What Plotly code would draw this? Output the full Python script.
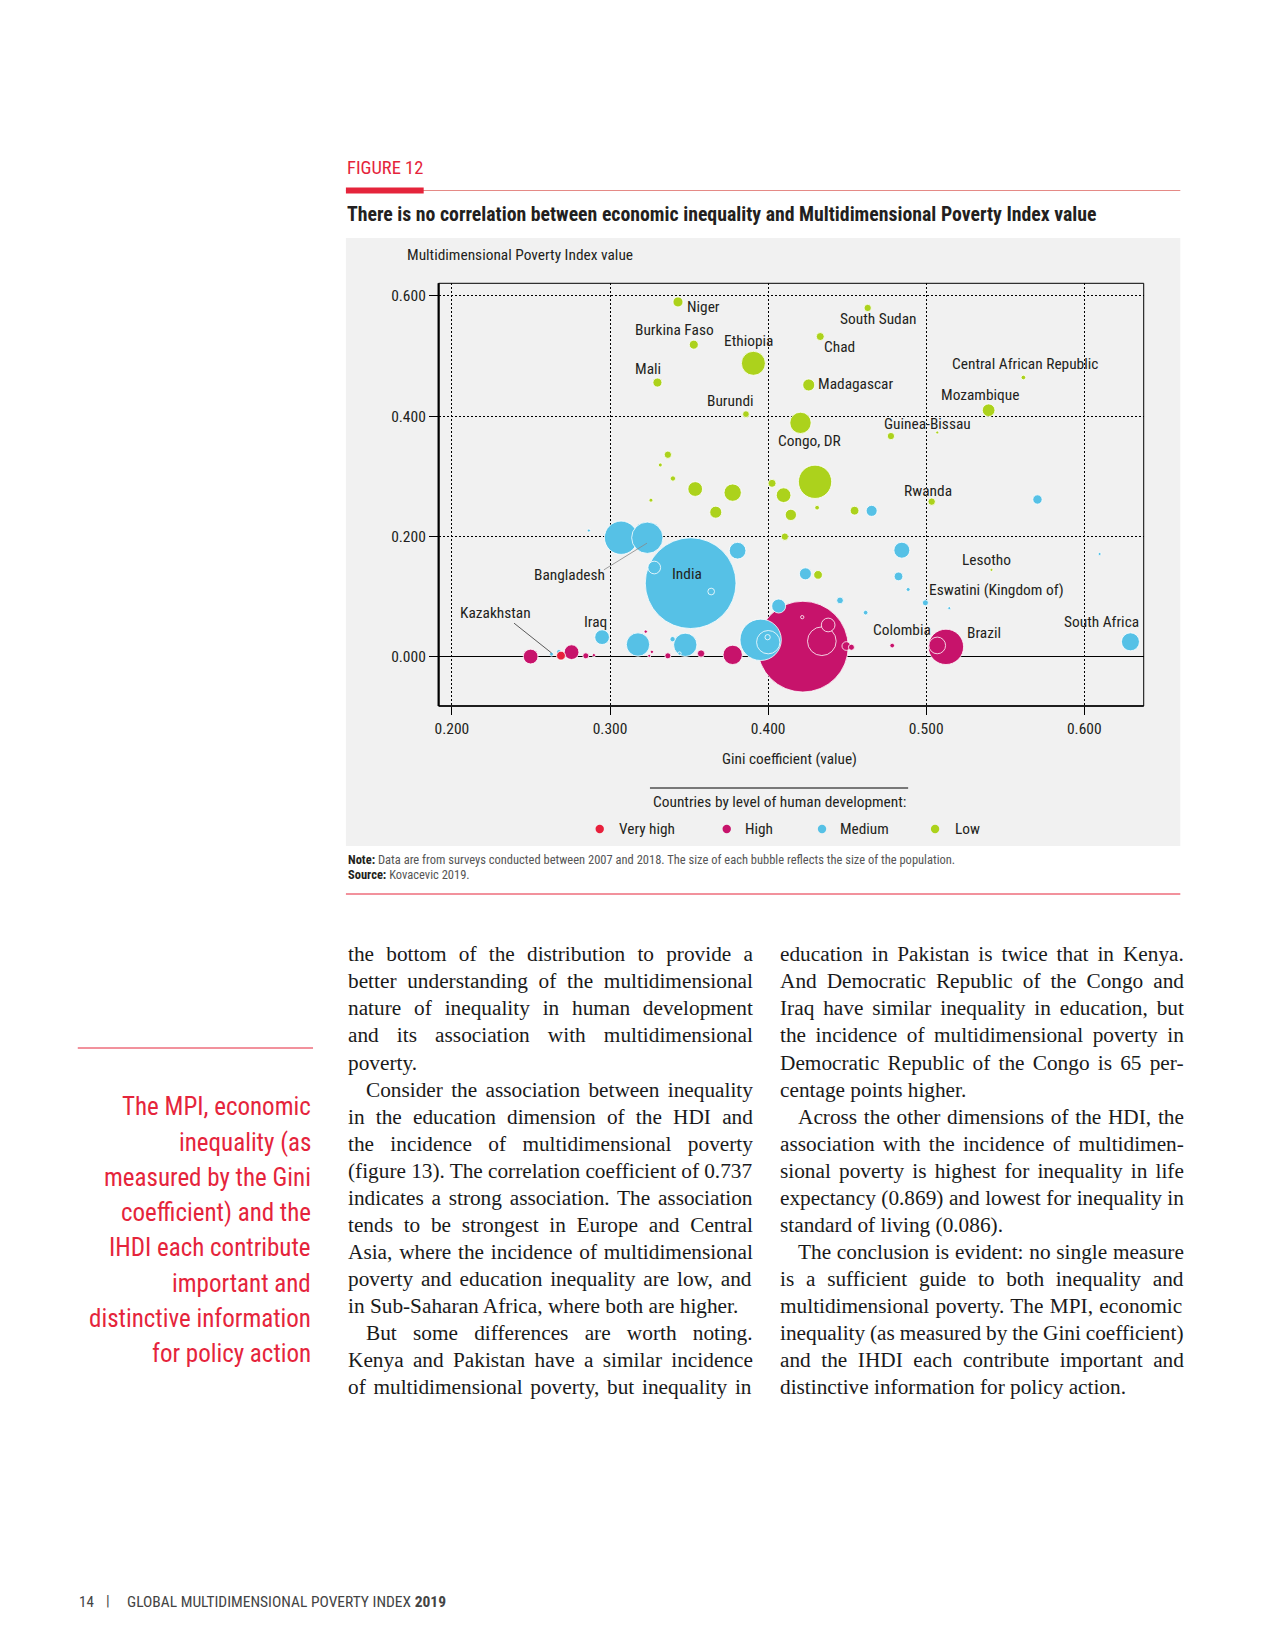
import plotly.graph_objects as go

W, H = 1275, 1650

# ---------------- data (Gini coefficient, MPI value, population in millions) ----------------
very_high_gini = [0.269]
very_high_mpi = [0.002]
very_high_pop = [13]

high_gini = [0.422, 0.5125, 0.434, 0.3776, 0.507, 0.2498, 0.2757, 0.438, 0.4495, 0.3576,
             0.4527, 0.3366, 0.2847, 0.4785, 0.4216, 0.3265, 0.3226, 0.2898, 0.3248]
high_mpi = [0.017, 0.0166, 0.026, 0.0033, 0.019, 0.0005, 0.0078, 0.053, 0.018, 0.0055,
            0.016, 0.0017, 0.0017, 0.0188, 0.066, 0.0083, 0.042, 0.0028, 0.0017]
high_pop = [1360, 206, 136, 61.5, 46, 35.7, 35.7, 31, 12.5, 8.8,
            6, 6, 6, 3.6, 1.8, 1.8, 1.8, 1.8, 1.2]

medium_gini = [0.351, 0.3953, 0.307, 0.3236, 0.4001, 0.3177, 0.3476, 0.6292, 0.3807, 0.4846,
               0.295, 0.4067, 0.328, 0.4236, 0.4655, 0.5704, 0.4825, 0.364, 0.4455, 0.4995,
               0.3997, 0.3396, 0.4617, 0.2677, 0.4886, 0.263, 0.344, 0.5146, 0.6097, 0.2866]
medium_mpi = [0.1225, 0.0283, 0.198, 0.198, 0.0244, 0.0205, 0.020, 0.025, 0.1765, 0.1773,
              0.0327, 0.0845, 0.1485, 0.138, 0.2427, 0.2616, 0.1337, 0.1086, 0.0938, 0.0898,
              0.0327, 0.0294, 0.0735, 0.0083, 0.112, 0.0045, 0.0055, 0.081, 0.171, 0.21]
medium_pop = [1360, 282, 183, 162, 90, 90, 90, 53.5, 46, 42,
              35.7, 32.4, 26.6, 23.8, 20, 14.3, 12.5, 7.4, 7.4, 6,
              4.6, 4.6, 3.6, 3.6, 2.6, 2.6, 1.8, 1.1, 0.7, 0.4]

low_gini = [0.4297, 0.3907, 0.4205, 0.3776, 0.3539, 0.4098, 0.3669, 0.5395, 0.4257, 0.4144,
            0.343, 0.353, 0.330, 0.4547, 0.4316, 0.433, 0.4025, 0.463, 0.3366, 0.4777,
            0.5035, 0.4106, 0.386, 0.3398, 0.431, 0.5615, 0.3318, 0.3259, 0.5413, 0.507]
low_mpi = [0.291, 0.488, 0.389, 0.273, 0.279, 0.2688, 0.2405, 0.410, 0.452, 0.236,
           0.590, 0.519, 0.456, 0.243, 0.1363, 0.5325, 0.2885, 0.580, 0.336, 0.367,
           0.258, 0.1998, 0.4035, 0.2965, 0.248, 0.4644, 0.319, 0.2605, 0.1446, 0.373]
low_pop = [183, 95, 75, 49.5, 35.7, 35.7, 23.8, 26.6, 23.8, 21,
           16.5, 13.4, 13.4, 12.5, 12.5, 10.6, 10.6, 8.8, 8.8, 8.8,
           8.8, 8.8, 7.4, 4.6, 3.6, 3.5, 2.6, 2.6, 1.0, 0.6]

categories = ["Very high", "High", "Medium", "Low"]
x_ticks = [0.2, 0.3, 0.4, 0.5, 0.6]
x_ticklabels = ["0.200", "0.300", "0.400", "0.500", "0.600"]
y_ticks = [0.0, 0.2, 0.4, 0.6]
y_ticklabels = ["0.000", "0.200", "0.400", "0.600"]

# ---------------- styling ----------------
COLORS = {"Very high": "#e8203c", "High": "#c7136b", "Medium": "#56c1e6", "Low": "#acd21c"}
NARROW = "Liberation Sans Narrow, Arial Narrow, Roboto Condensed, Roboto, sans-serif"
SERIF = "Liberation Serif, DejaVu Serif, serif"
INK = "#231f20"
RED = "#e5243b"
K = 2.46  # px of diameter per sqrt(million people)
SIZEREF = 2.0 / K ** 2

def px(x):
    return x / W

def py(y):
    return 1 - y / H

# plot area in page pixels
PL, PR, PT, PB = 436.0, 1143.3, 283.3, 706.0

fig = go.Figure()

series = [
    ("High", high_gini, high_mpi, high_pop),
    ("Medium", medium_gini, medium_mpi, medium_pop),
    ("Low", low_gini, low_mpi, low_pop),
    ("Very high", very_high_gini, very_high_mpi, very_high_pop),
]
for name, gx, my, pop in series:
    order = sorted(range(len(pop)), key=lambda i: -pop[i])
    fig.add_trace(go.Scatter(
        x=[gx[i] for i in order], y=[my[i] for i in order], mode="markers", name=name,
        showlegend=False,
        marker=dict(size=[pop[i] for i in order], sizemode="area", sizeref=SIZEREF, sizemin=1.5,
                    color=COLORS[name], opacity=1, line=dict(color="white", width=0.8)),
        hovertemplate=name + "<br>Gini %{x:.3f}<br>MPI %{y:.3f}<extra></extra>",
    ))

shapes = []
# grey panel
shapes.append(dict(type="rect", xref="paper", yref="paper", x0=px(343), x1=px(1180), y0=py(846), y1=py(238),
                   fillcolor="#f1f1f1", line=dict(width=0), layer="below"))
# frame
shapes.append(dict(type="rect", xref="paper", yref="paper", x0=px(PL), x1=px(PR), y0=py(PB), y1=py(PT),
                   line=dict(color="black", width=1), fillcolor="rgba(0,0,0,0)", layer="above"))
shapes.append(dict(type="line", xref="paper", yref="paper", x0=px(PL), x1=px(PL), y0=py(PB), y1=py(PT),
                   line=dict(color="black", width=2.2), layer="above"))
shapes.append(dict(type="line", xref="paper", yref="paper", x0=px(PL), x1=px(PR), y0=py(PB), y1=py(PB),
                   line=dict(color="black", width=1.5), layer="above"))
# leader lines (Kazakhstan, Bangladesh)
shapes.append(dict(type="line", xref="x", yref="y", x0=0.2393, y0=0.056, x1=0.2630, y1=0.0065,
                   line=dict(color="#333333", width=0.8), layer="above"))
shapes.append(dict(type="line", xref="x", yref="y", x0=0.2961, y0=0.1446, x1=0.3234, y1=0.189,
                   line=dict(color="#888888", width=0.8), layer="above"))
# header rules
shapes.append(dict(type="line", xref="paper", yref="paper", x0=px(343), x1=px(1180), y0=py(190.5), y1=py(190.5),
                   line=dict(color="#e58a86", width=1)))
shapes.append(dict(type="rect", xref="paper", yref="paper", x0=px(343), x1=px(421), y0=py(193.5), y1=py(187.5),
                   fillcolor=RED, line=dict(width=0)))
shapes.append(dict(type="line", xref="paper", yref="paper", x0=px(343), x1=px(1180), y0=py(894), y1=py(894),
                   line=dict(color=RED, width=1)))
# legend rule
shapes.append(dict(type="line", xref="paper", yref="paper", x0=px(648), x1=px(907), y0=py(788), y1=py(788),
                   line=dict(color="black", width=1)))
# sidebar rule
shapes.append(dict(type="line", xref="paper", yref="paper", x0=px(74), x1=px(310), y0=py(1048), y1=py(1048),
                   line=dict(color=RED, width=1)))

# legend dots
legend_pos = {"Very high": (597.6, 615), "High": (725, 741.6), "Medium": (820.6, 837), "Low": (934, 952)}
for cat in categories:
    cx, _ = legend_pos[cat]
    r = 4.2
    shapes.append(dict(type="circle", xref="paper", yref="paper", x0=px(cx - r), x1=px(cx + r),
                       y0=py(829 + r), y1=py(829 - r), fillcolor=COLORS[cat], line=dict(width=0)))

annotations = []

def ann(text, x, y, size, color=INK, family=NARROW, xanchor="center", yanchor="middle"):
    annotations.append(dict(text=text, x=px(x), y=py(y), xref="paper", yref="paper", showarrow=False,
                            xanchor=xanchor, yanchor=yanchor, font=dict(size=size, color=color, family=family)))

# header
ann("FIGURE 12", 342, 168, 18.5, color=RED, xanchor="left")
ann("<b>There is no correlation between economic inequality and Multidimensional Poverty Index value</b>",
    342, 214.5, 19.8, xanchor="left")
# axis titles
ann("Multidimensional Poverty Index value", 402, 255.5, 15.4, xanchor="left")
ann("Gini coefficient (value)", 788, 758.5, 15.3)
# legend
ann("Countries by level of human development:", 778, 801.5, 15.4)
for cat in categories:
    _, tx = legend_pos[cat]
    ann(cat, tx, 829, 15.3, xanchor="left")

# country labels (page pixel positions of text centres)
labels = [
    ("Niger", 701.7, 306.5), ("Burkina Faso", 672.5, 329.8), ("Ethiopia", 747.3, 341),
    ("Mali", 646.5, 368.8), ("Burundi", 728.7, 401), ("South Sudan", 876.8, 319),
    ("Chad", 837.8, 347.2), ("Central African Republic", 1024, 364.2), ("Madagascar", 853.8, 383.5),
    ("Mozambique", 979.5, 395.3), ("Guinea-Bissau", 926.2, 423.8), ("Congo, DR", 808.3, 441.2),
    ("Rwanda", 926.6, 490.5), ("India", 685.3, 574), ("Bangladesh", 567.2, 575),
    ("Lesotho", 985.5, 560), ("Eswatini (Kingdom of)", 996, 590), ("Kazakhstan", 492.6, 613.3),
    ("Iraq", 593, 622), ("Colombia", 901.2, 630), ("Brazil", 983.5, 633), ("South Africa", 1100.6, 622),
]
for t, x, y in labels:
    ann(t, x, y, 15.4)

# note / source
ann("<b>Note:</b> <span style='color:#555555'>Data are from surveys conducted between 2007 and 2018. "
    "The size of each bubble reflects the size of the population.</span>", 343, 859.5, 12.5, xanchor="left")
ann("<b>Source:</b> <span style='color:#555555'>Kovacevic 2019.</span>", 343, 874, 12.5, xanchor="left")

# body text: (indent, justified, text)
col1 = [
    (0, 1, "the bottom of the distribution to provide a"),
    (0, 1, "better understanding of the multidimensional"),
    (0, 1, "nature of inequality in human development"),
    (0, 1, "and its association with multidimensional"),
    (0, 0, "poverty."),
    (1, 1, "Consider the association between inequality"),
    (0, 1, "in the education dimension of the HDI and"),
    (0, 1, "the incidence of multidimensional poverty"),
    (0, 1, "(figure 13). The correlation coefficient of 0.737"),
    (0, 1, "indicates a strong association. The association"),
    (0, 1, "tends to be strongest in Europe and Central"),
    (0, 1, "Asia, where the incidence of multidimensional"),
    (0, 1, "poverty and education inequality are low, and"),
    (0, 0, "in Sub-Saharan Africa, where both are higher."),
    (1, 1, "But some differences are worth noting."),
    (0, 1, "Kenya and Pakistan have a similar incidence"),
    (0, 1, "of multidimensional poverty, but inequality in"),
]
col2 = [
    (0, 1, "education in Pakistan is twice that in Kenya."),
    (0, 1, "And Democratic Republic of the Congo and"),
    (0, 1, "Iraq have similar inequality in education, but"),
    (0, 1, "the incidence of multidimensional poverty in"),
    (0, 1, "Democratic Republic of the Congo is 65 per-"),
    (0, 0, "centage points higher."),
    (1, 1, "Across the other dimensions of the HDI, the"),
    (0, 1, "association with the incidence of multidimen-"),
    (0, 1, "sional poverty is highest for inequality in life"),
    (0, 1, "expectancy (0.869) and lowest for inequality in"),
    (0, 0, "standard of living (0.086)."),
    (1, 1, "The conclusion is evident: no single measure"),
    (0, 1, "is a sufficient guide to both inequality and"),
    (0, 1, "multidimensional poverty. The MPI, economic"),
    (0, 1, "inequality (as measured by the Gini coefficient)"),
    (0, 1, "and the IHDI each contribute important and"),
    (0, 0, "distinctive information for policy action."),
]

# Times / Liberation Serif advance widths (1/1000 em) used to justify lines
TW = dict(zip("abcdefghijklmnopqrstuvwxyz",
              [444, 500, 444, 500, 444, 333, 500, 500, 278, 278, 500, 278, 778,
               500, 500, 500, 500, 333, 389, 278, 500, 500, 722, 500, 500, 444]))
TW.update(dict(zip("ABCDEFGHIJKLMNOPQRSTUVWXYZ",
                   [722, 667, 667, 722, 611, 556, 722, 722, 333, 389, 722, 611, 889,
                    722, 722, 556, 722, 667, 556, 611, 722, 722, 944, 722, 722, 611])))
TW.update({c: 500 for c in "0123456789"})
TW.update({" ": 250, ".": 250, ",": 250, ":": 278, ";": 278, "(": 333, ")": 333, "-": 333})

BODY_SIZE = 21.3
INDENT = 18
for colx, right, lines in ((343, 748, col1), (776, 1180, col2)):
    for i, (ind, just, t) in enumerate(lines):
        x0 = colx + INDENT * ind
        txt = t
        if just:
            w = sum(TW.get(c, 500) for c in t) / 1000.0 * BODY_SIZE
            n = t.count(" ")
            ws = (right - x0 - w) / n if n else 0
            txt = "<span style='word-spacing:%.2fpx'>%s</span>" % (ws, t)
        ann(txt, x0, 954.2 + 27.08 * i, BODY_SIZE, color="#1a1a1a", family=SERIF, xanchor="left")

# sidebar quote
side = ["The MPI, economic", "inequality (as", "measured by the Gini", "coefficient) and the",
        "IHDI each contribute", "important and", "distinctive information", "for policy action"]
for i, t in enumerate(side):
    ann(t, 310, 1106.7 + 35.3 * i, 25, color=RED, xanchor="right")

# footer
ann("14", 73, 1602, 15, color="#444444", xanchor="left")
ann("|", 100, 1601, 15, color="#444444", xanchor="left")
ann("GLOBAL MULTIDIMENSIONAL POVERTY INDEX <b>2019</b>", 121, 1602, 15.5, color="#444444", xanchor="left")

fig.update_layout(
    width=W, height=H, margin=dict(l=0, r=0, t=0, b=0),
    paper_bgcolor="white", plot_bgcolor="rgba(0,0,0,0)",
    shapes=shapes, annotations=annotations, showlegend=False,
    font=dict(family=NARROW, color=INK),
    xaxis=dict(domain=[px(PL), px(PR)], range=[0.1916, 0.6376], tickvals=x_ticks, ticktext=x_ticklabels,
               showgrid=True, gridcolor="black", gridwidth=1, griddash="2px,2px", zeroline=False,
               ticks="outside", ticklen=8, tickcolor="black", tickwidth=1,
               tickfont=dict(size=15.5, color=INK, family=NARROW), showline=False, fixedrange=True),
    yaxis=dict(domain=[py(PB), py(PT)], range=[-0.0817, 0.621], tickvals=y_ticks, ticktext=y_ticklabels,
               showgrid=True, gridcolor="black", gridwidth=1, griddash="2px,2px",
               zeroline=True, zerolinecolor="black", zerolinewidth=1.3,
               ticks="outside", ticklen=8.7, tickcolor="black", tickwidth=1,
               tickfont=dict(size=15.5, color=INK, family=NARROW), showline=False, fixedrange=True),
)

fig.write_html("out.html", config={"displayModeBar": False},
               post_script="document.body.style.margin='0';document.body.style.overflow='hidden';")
